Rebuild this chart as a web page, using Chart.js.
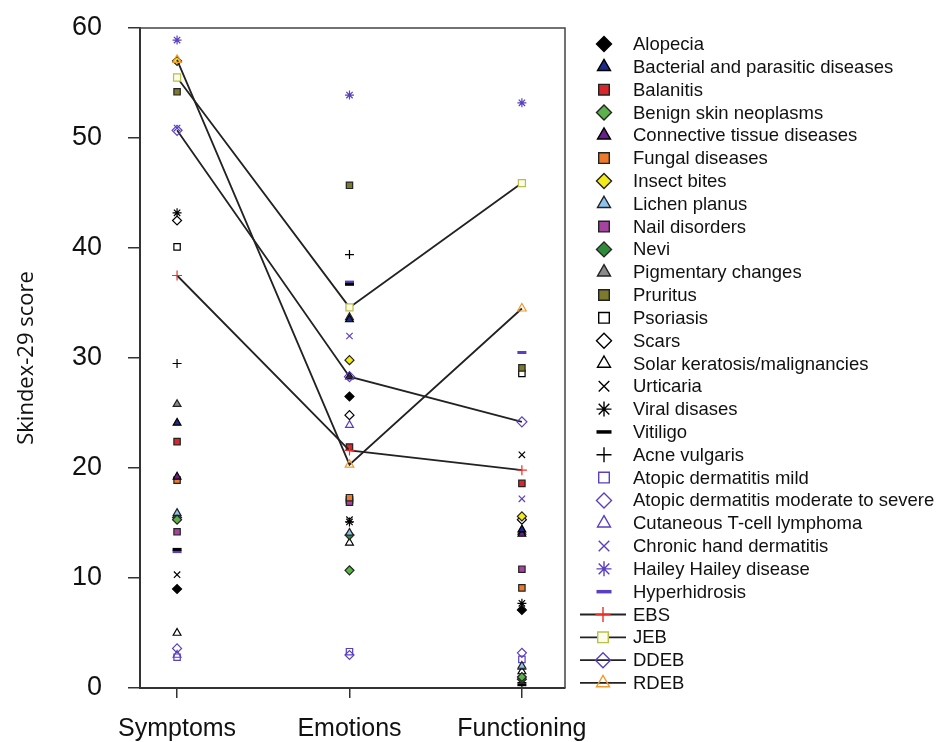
<!DOCTYPE html>
<html>
<head>
<meta charset="utf-8">
<script src="https://cdn.jsdelivr.net/npm/chart.js@4"></script>
<style>
  body { margin: 0; background: #fff; }
  #wrap { width: 948px; height: 742px; position: relative; }
</style>
</head>
<body>
<div id="wrap"><canvas id="skindexChart"></canvas></div>
<script>
// --- Data ---
const categories = ['Symptoms', 'Emotions', 'Functioning'];
const yTickValues = [0, 10, 20, 30, 40, 50, 60];

// [Symptoms, Emotions, Functioning]
const alopecia = [9.0, 26.5, 7.1];
const bacterial = [24.1, 33.5, 14.4];
const balanitis = [22.4, 21.9, 18.6];
const benignNeoplasms = [15.3, 10.7, 1.0];
const connectiveTissue = [19.2, 28.3, 14.0];
const fungal = [18.9, 17.3, 9.1];
const insectBites = [57.0, 29.8, 15.6];
const lichenPlanus = [15.9, 14.1, 2.0];
const nailDisorders = [14.2, 16.9, 10.8];
const nevi = [15.5, 13.9, 0.8];
const pigmentary = [25.8, 33.7, 14.2];
const pruritus = [54.2, 45.7, 29.1];
const psoriasis = [40.1, 17.1, 28.6];
const scars = [42.5, 24.8, 15.3];
const solarKeratosis = [5.0, 13.2, 1.5];
const urticaria = [10.3, 15.3, 21.2];
const viral = [43.2, 15.1, 7.7];
const vitiligo = [12.6, 36.7, 0.3];
const acne = [29.5, 39.4, 0.5];
const atopicMild = [2.8, 3.3, 2.6];
const atopicModSevere = [3.6, 3.0, 3.2];
const ctcl = [3.0, 23.9, 1.9];
const chronicHand = [50.9, 32.0, 17.2];
const haileyHailey = [58.9, 53.9, 53.2];
const hyperhidrosis = [12.4, 36.9, 30.5];

// epidermolysis bullosa subtypes (joined by lines)
const ebs = [37.5, 21.6, 19.8];
const jeb = [55.5, 34.6, 45.9];
const ddeb = [50.7, 28.3, 24.2];
const rdeb = [57.1, 20.3, 34.5];

// --- Styles ---
const NONE = 'rgba(0,0,0,0)';
const PURPLE = '#5a3fc0';

const series = [
  { label: 'Alopecia', data: alopecia, style: 'rectRot', fill: '#000', stroke: '#000' },
  { label: 'Bacterial and parasitic diseases', data: bacterial, style: 'triangle', fill: '#1d2a8a', stroke: '#000' },
  { label: 'Balanitis', data: balanitis, style: 'rect', fill: '#d8262b', stroke: '#222' },
  { label: 'Benign skin neoplasms', data: benignNeoplasms, style: 'rectRot', fill: '#5cb24a', stroke: '#222' },
  { label: 'Connective tissue diseases', data: connectiveTissue, style: 'triangle', fill: '#6b1f8c', stroke: '#000' },
  { label: 'Fungal diseases', data: fungal, style: 'rect', fill: '#ec7a2a', stroke: '#222' },
  { label: 'Insect bites', data: insectBites, style: 'rectRot', fill: '#f3ea1a', stroke: '#222' },
  { label: 'Lichen planus', data: lichenPlanus, style: 'triangle', fill: '#8cc4ee', stroke: '#222' },
  { label: 'Nail disorders', data: nailDisorders, style: 'rect', fill: '#a4449e', stroke: '#222' },
  { label: 'Nevi', data: nevi, style: 'rectRot', fill: '#2f8a3a', stroke: '#222' },
  { label: 'Pigmentary changes', data: pigmentary, style: 'triangle', fill: '#8a8a8a', stroke: '#222' },
  { label: 'Pruritus', data: pruritus, style: 'rect', fill: '#7c7a2c', stroke: '#222' },
  { label: 'Psoriasis', data: psoriasis, style: 'rect', fill: NONE, stroke: '#000' },
  { label: 'Scars', data: scars, style: 'rectRot', fill: NONE, stroke: '#000' },
  { label: 'Solar keratosis/malignancies', data: solarKeratosis, style: 'triangle', fill: NONE, stroke: '#000' },
  { label: 'Urticaria', data: urticaria, style: 'crossRot', fill: NONE, stroke: '#000' },
  { label: 'Viral disases', data: viral, style: 'star', fill: NONE, stroke: '#000' },
  { label: 'Vitiligo', data: vitiligo, style: 'line', fill: NONE, stroke: '#000', width: 3 },
  { label: 'Acne vulgaris', data: acne, style: 'cross', fill: NONE, stroke: '#000' },
  { label: 'Atopic dermatitis mild', data: atopicMild, style: 'rect', fill: NONE, stroke: PURPLE },
  { label: 'Atopic dermatitis moderate to severe', data: atopicModSevere, style: 'rectRot', fill: NONE, stroke: PURPLE },
  { label: 'Cutaneous T-cell lymphoma', data: ctcl, style: 'triangle', fill: NONE, stroke: PURPLE },
  { label: 'Chronic hand dermatitis', data: chronicHand, style: 'crossRot', fill: NONE, stroke: PURPLE },
  { label: 'Hailey Hailey disease', data: haileyHailey, style: 'star', fill: NONE, stroke: PURPLE },
  { label: 'Hyperhidrosis', data: hyperhidrosis, style: 'line', fill: NONE, stroke: PURPLE, width: 3 },
  { label: 'EBS', data: ebs, style: 'cross', fill: NONE, stroke: '#e8302a', line: true },
  { label: 'JEB', data: jeb, style: 'rect', fill: '#fbfbe8', stroke: '#b8c04a', line: true },
  { label: 'DDEB', data: ddeb, style: 'rectRot', fill: NONE, stroke: '#5a3fc0', line: true },
  { label: 'RDEB', data: rdeb, style: 'triangle', fill: NONE, stroke: '#f09a30', line: true }
];

const datasets = series.map(s => ({
  label: s.label,
  data: s.data.map((v, j) => ({ x: j, y: v })),
  showLine: !!s.line,
  borderColor: s.line ? '#222' : s.stroke,
  borderWidth: 1.8,
  pointStyle: s.style,
  pointRadius: s.line ? 5 : 4.5,
  pointBackgroundColor: s.fill,
  pointBorderColor: s.stroke,
  pointBorderWidth: s.width || 1.2,
  order: s.line ? 0 : 1
}));

// --- Plugins ---
const frame = {
  id: 'frame',
  beforeDatasetsDraw(chart) {
    const { ctx, chartArea: a } = chart;
    ctx.save();
    ctx.strokeStyle = '#444';
    ctx.lineWidth = 1.5;
    ctx.beginPath();
    ctx.moveTo(a.left, a.top);
    ctx.lineTo(a.right, a.top);
    ctx.lineTo(a.right, a.bottom);
    ctx.stroke();
    ctx.restore();
  }
};

const sideLegend = {
  id: 'sideLegend',
  afterDraw(chart) {
    const ctx = chart.ctx;
    const x0 = 604, textX = 633, y0 = 44, step = 22.82;
    ctx.save();
    ctx.font = '18.5px "Liberation Sans", Arial, sans-serif';
    ctx.textBaseline = 'middle';
    series.forEach((s, i) => {
      const y = y0 + i * step;
      if (s.line) {
        ctx.strokeStyle = '#222';
        ctx.lineWidth = 1.8;
        ctx.beginPath();
        ctx.moveTo(580, y);
        ctx.lineTo(626, y);
        ctx.stroke();
      }
      ctx.fillStyle = s.fill;
      ctx.strokeStyle = s.stroke;
      ctx.lineWidth = s.width ? 3.5 : 1.4;
      Chart.helpers.drawPoint(ctx, { pointStyle: s.style, radius: 7.5, borderWidth: 1, rotation: 0 },
        s.line ? 603 : x0, y);
      ctx.fillStyle = '#111';
      ctx.fillText(s.label, textX, y + 1);
    });
    ctx.restore();
  }
};

// --- Chart ---
new Chart(document.getElementById('skindexChart'), {
  type: 'scatter',
  data: { datasets },
  plugins: [frame, sideLegend],
  options: {
    responsive: true,
    maintainAspectRatio: false,
    animation: false,
    layout: { padding: { top: 28, right: 383, bottom: 0, left: 0 } },
    plugins: { legend: { display: false }, tooltip: { enabled: false } },
    scales: {
      x: {
        type: 'linear',
        min: -0.215,
        max: 2.25,
        afterBuildTicks: scale => { scale.ticks = categories.map((c, i) => ({ value: i })); },
        afterFit: scale => { scale.height = 54; scale.paddingLeft = 0; scale.paddingRight = 0; },
        ticks: {
          callback: v => categories[v] || '',
          color: '#111',
          font: { family: '"Liberation Sans", Arial, sans-serif', size: 25 },
          padding: 16,
          maxRotation: 0
        },
        grid: { drawOnChartArea: false, drawTicks: true, tickLength: 10, color: '#333', lineWidth: 1.5 },
        border: { display: true, color: '#333', width: 2 }
      },
      y: {
        min: 0,
        max: 60,
        afterBuildTicks: scale => { scale.ticks = yTickValues.map(v => ({ value: v })); },
        afterFit: scale => { scale.width = 140; scale.paddingTop = 0; scale.paddingBottom = 0; },
        ticks: {
          color: '#111',
          font: { family: '"Liberation Sans", Arial, sans-serif', size: 27 },
          padding: 26
        },
        grid: { drawOnChartArea: false, drawTicks: true, tickLength: 12, color: '#333', lineWidth: 1.5 },
        border: { display: true, color: '#333', width: 2 },
        title: {
          display: true,
          text: 'Skindex-29 score',
          color: '#111',
          font: { family: '"Open Sans", sans-serif', size: 22 },
          padding: { top: 14, bottom: 0 }
        }
      }
    }
  }
});
</script>
</body>
</html>
